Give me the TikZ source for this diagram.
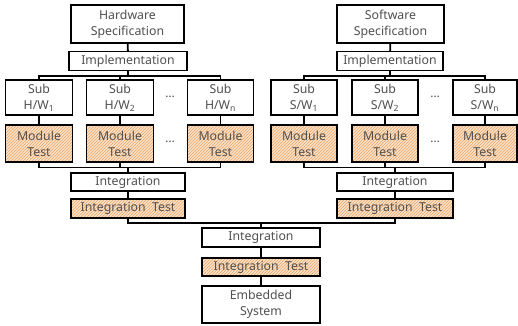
\documentclass[tikz,border=0pt]{standalone}
\usepackage{fontspec}
\setmainfont{Noto Sans}
\usetikzlibrary{patterns}
\definecolor{hatchbg}{HTML}{FBE3CC}
\definecolor{hatchln}{HTML}{E9A462}
\definecolor{txt}{HTML}{505050}
\begin{document}
\begin{tikzpicture}[x=1pt,y=-1pt,
  box/.style={draw=black,line width=1.4pt,fill=white,text=txt,align=center,
    inner sep=0pt,font=\fontsize{12.3}{16}\selectfont},
  hatch/.style={box,preaction={fill=hatchbg},pattern=north east lines,pattern color=hatchln},
  conn/.style={line width=1.8pt,black},
  dots/.style={text=txt,font=\fontsize{12}{14}\selectfont}]
\useasboundingbox (0,0) rectangle (518,325);
% Hardware side
\node[box,minimum width=113pt,minimum height=38pt] (hs) at (127.5,24) {Hardware\\Specification};
\node[box,minimum width=118pt,minimum height=19pt] (himp) at (128,61) {Implementation};
\node[box,minimum width=67pt,minimum height=35pt] (h1) at (39,97.5) {Sub\\H/W\textsubscript{1}};
\node[box,minimum width=67pt,minimum height=35pt] (h2) at (120,97.5) {Sub\\H/W\textsubscript{2}};
\node[box,minimum width=66pt,minimum height=35pt] (h3) at (220.5,97.5) {Sub\\H/W\textsubscript{n}};
\node[hatch,minimum width=67pt,minimum height=37pt] (hm1) at (39,143.5) {Module\\Test};
\node[hatch,minimum width=67pt,minimum height=37pt] (hm2) at (120,143.5) {Module\\Test};
\node[hatch,minimum width=66pt,minimum height=37pt] (hm3) at (220.5,143.5) {Module\\Test};
\node[dots] (hd1) at (170,97) {…};
\node[dots] (hd2) at (170,142) {…};
\node[box,minimum width=114pt,minimum height=18pt] (hint) at (128,182) {Integration};
\node[hatch,minimum width=114pt,minimum height=19pt] (hit) at (128,208.5) {Integration\ \ Test};
% Software side
\node[box,minimum width=107pt,minimum height=38pt] (ss) at (390.5,24) {Software\\Specification};
\node[box,minimum width=106pt,minimum height=19pt] (simp) at (390,61) {Implementation};
\node[box,minimum width=66pt,minimum height=35pt] (s1) at (304,97.5) {Sub\\S/W\textsubscript{1}};
\node[box,minimum width=66pt,minimum height=35pt] (s2) at (385,97.5) {Sub\\S/W\textsubscript{2}};
\node[box,minimum width=64pt,minimum height=35pt] (s3) at (485,97.5) {Sub\\S/W\textsubscript{n}};
\node[hatch,minimum width=66pt,minimum height=37pt] (sm1) at (304,143.5) {Module\\Test};
\node[hatch,minimum width=66pt,minimum height=37pt] (sm2) at (385,143.5) {Module\\Test};
\node[hatch,minimum width=64pt,minimum height=37pt] (sm3) at (485,143.5) {Module\\Test};
\node[dots] (sd1) at (435,97) {…};
\node[dots] (sd2) at (435,142) {…};
\node[box,minimum width=116pt,minimum height=18pt] (sint) at (395,182) {Integration};
\node[hatch,minimum width=116pt,minimum height=19pt] (sit) at (395,208.5) {Integration\ \ Test};
% Final
\node[box,minimum width=118pt,minimum height=19pt] (fint) at (261,237.5) {Integration};
\node[hatch,minimum width=118pt,minimum height=18pt] (fit) at (261,267) {Integration\ \ Test};
\node[box,minimum width=118pt,minimum height=37pt] (emb) at (261,304.5) {Embedded\\System};
% bus coordinates
\coordinate (hb1) at (0,76);
\coordinate (hb2) at (0,167.5);
\coordinate (sb1) at (0,76);
\coordinate (sb2) at (0,167.5);
\coordinate (fb) at (0,223);
% connectors hardware
\draw[conn] (hs) -- (himp);
\draw[conn] (himp.south) -- (himp.south |- hb1);
\draw[conn] (h1.north) -- (h1.north |- hb1) -- (h3.north |- hb1) -- (h3.north);
\draw[conn] (h2.north) -- (h2.north |- hb1);
\draw[conn] (h1) -- (hm1);
\draw[conn] (h2) -- (hm2);
\draw[conn] (h3) -- (hm3);
\draw[conn] (hm1.south) -- (hm1.south |- hb2) -- (hm3.south |- hb2) -- (hm3.south);
\draw[conn] (hm2.south) -- (hm2.south |- hb2);
\draw[conn] (hint.north) -- (hint.north |- hb2);
\draw[conn] (hint) -- (hit);
% connectors software
\draw[conn] (ss) -- (simp);
\draw[conn] (simp.south) -- (simp.south |- sb1);
\draw[conn] (s1.north) -- (s1.north |- sb1) -- (s3.north |- sb1) -- (s3.north);
\draw[conn] (s2.north) -- (s2.north |- sb1);
\draw[conn] (s1) -- (sm1);
\draw[conn] (s2) -- (sm2);
\draw[conn] (s3) -- (sm3);
\draw[conn] (sm1.south) -- (sm1.south |- sb2) -- (sm3.south |- sb2) -- (sm3.south);
\draw[conn] (sm2.south) -- (sm2.south |- sb2);
\draw[conn] (sint.north) -- (sint.north |- sb2);
\draw[conn] (sint) -- (sit);
% final
\draw[conn] (hit.south) -- (hit.south |- fb) -- (sit.south |- fb) -- (sit.south);
\draw[conn] (fint.north) -- (fint.north |- fb);
\draw[conn] (fint) -- (fit);
\draw[conn] (fit) -- (emb);
\end{tikzpicture}
\end{document}
